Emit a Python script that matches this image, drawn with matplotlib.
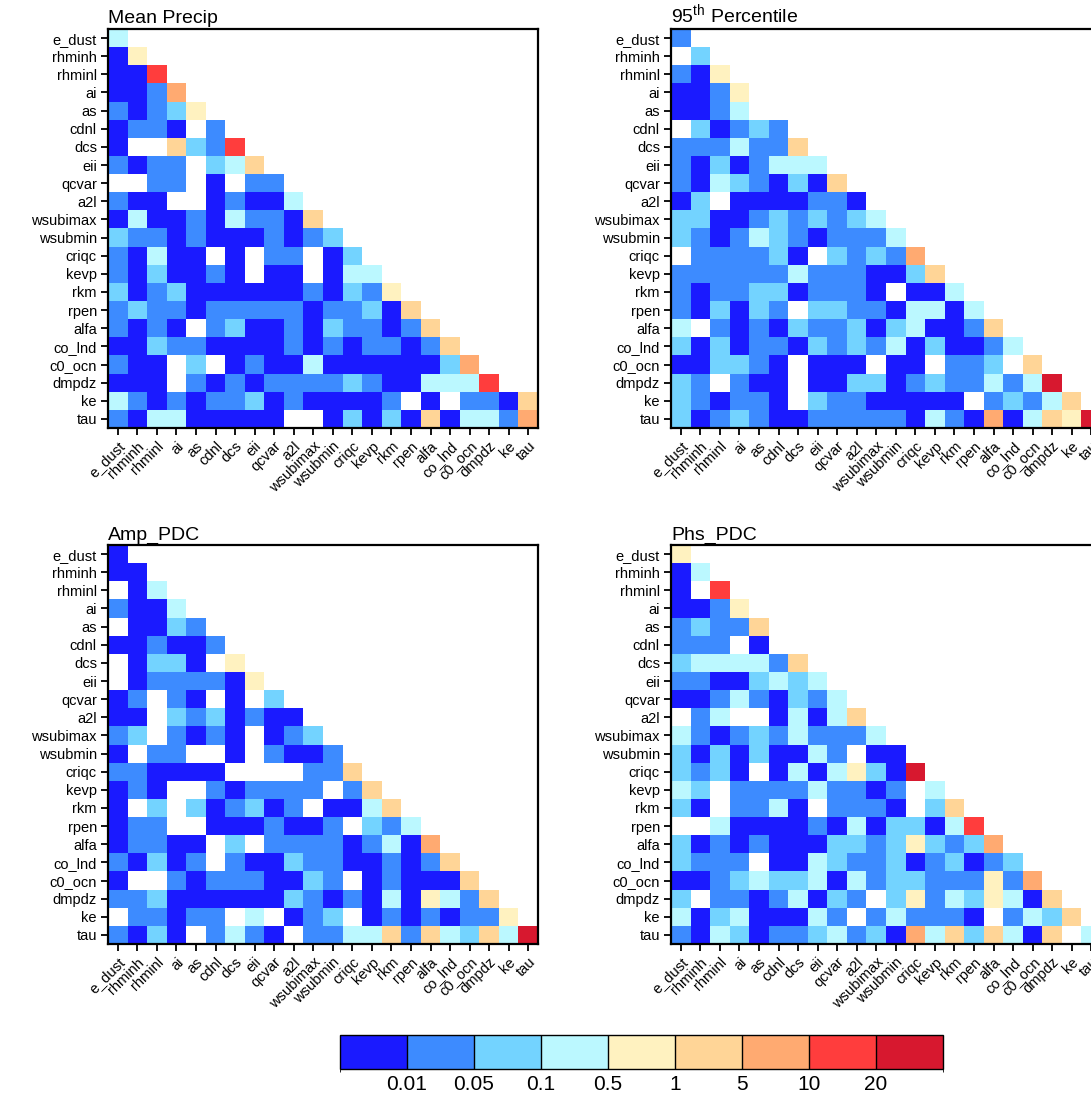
import numpy as np
import matplotlib
matplotlib.use("Agg")
import matplotlib.pyplot as plt
from matplotlib.colors import ListedColormap, BoundaryNorm
import matplotlib.colorbar as mcolorbar

plt.rcParams['font.family'] = ['Liberation Sans', 'DejaVu Sans']
plt.rcParams['mathtext.fontset'] = 'custom'
plt.rcParams['mathtext.rm'] = 'Liberation Sans'

variables = ["e_dust", "rhminh", "rhminl", "ai", "as", "cdnl", "dcs", "eii", "qcvar",
             "a2l", "wsubimax", "wsubmin", "criqc", "kevp", "rkm", "rpen", "alfa",
             "co_lnd", "c0_ocn", "dmpdz", "ke", "tau"]

# class of each lower-triangle cell (0..8 = colour bin, '.' = no value)
mean_precip = ["3", "04", "007", "0016", "10124", "0110.1", "0..5217", "1011.235",
               "..11.0.11", "100..01003", "03001031105", "211010001012",
               "10300.0.11.02", "1020010.00.033", "201200000010214",
               "1211011111011205", "1010.120010211015", "002110000101011015",
               "100.2.0100300000026", "000.1010111121003337",
               "310101120100001.0.1105", "103300000..02020503316"]
pct95 = ["1", ".2", "104", "0014", "0013.", ".20121", "1113115", "10201333",
         "103210205", "02.0000110", "22001212123", "210132101113",
         ".111120.21216", "11111131110025", "10112201110.003",
         "102021.221103303", "3.101021120230015", "202011021213020013",
         "002210.000.00.112.5", "21.100.0022012113138",
         "210110.21100000.12135", "2012100111110310603548"]
amp_pdc = ["0", "00", ".03", "1003", ".0021", "001001", ".0220.4", ".0111104",
           "01.10.0.2", "00.2120100", "12.1010.012", "0.11..0.1001",
           "110000....115", "010..101111.15", "0.2.201201.0035",
           "011..0001001.213", "01100.2.111101306", "10201.100211001015",
           "0..101110021.010005", "11200000021010304315",
           ".11011.3.012.01010114", "1020.1310.113351532538"]
phs_pdc = ["4", "03", "0.7", "0014", "12115", "111.0.", "2333315", "11002323",
           "001310213", ".13..03035", "31012131113", "202020031.00",
           "2120.03034208", "32.111131101.3", "20.1130.1110.25",
           "..30000103022037", "20101000221242126", "2111.0032112012012",
           "0012322303122111416", "2.11013021.241324305",
           "302300031.131110.1325", "10320112312063525305.3"]

# representative value of each class and the class bounds
class_values = [0.005, 0.03, 0.07, 0.3, 0.7, 3, 7, 15, 30]
bounds = [0, 0.01, 0.05, 0.1, 0.5, 1, 5, 10, 20, 100]
bound_labels = ["0.01", "0.05", "0.1", "0.5", "1", "5", "10", "20"]
colors = ["#1a1aff", "#3d8bff", "#73d3ff", "#bbf8ff", "#fff2c0",
          "#ffd597", "#ffaa71", "#ff3d3d", "#d7182f"]

titles = ["Mean Precip", r"95$^{\rm th}$ Percentile", "Amp_PDC", "Phs_PDC"]
panels = [mean_precip, pct95, amp_pdc, phs_pdc]

cmap = ListedColormap(colors)
norm = BoundaryNorm(bounds, cmap.N)


def decode(rows):
    n = len(variables)
    m = np.full((n, n), np.nan)
    for i, r in enumerate(rows):
        for j, ch in enumerate(r):
            if ch != '.':
                m[i, j] = class_values[int(ch)]
    return np.ma.masked_invalid(m)


W, H = 1091, 1098
fig = plt.figure(figsize=(W / 100, H / 100), dpi=100)

pos = [(108, 29), (671, 29), (108, 545), (671, 545)]
aw, ah = 430, 399
n = len(variables)
edges = np.arange(n + 1) - 0.5
for (px, py), title, rows in zip(pos, titles, panels):
    ax = fig.add_axes([px / W, 1 - (py + ah) / H, aw / W, ah / H])
    ax.pcolormesh(edges, edges, decode(rows), cmap=cmap, norm=norm)
    ax.set_xlim(-0.5, n - 0.5)
    ax.set_ylim(n - 0.5, -0.5)
    ax.set_xticks(range(n))
    ax.set_yticks(range(n))
    ax.set_xticklabels(variables, rotation=45, ha='right', va='top',
                       rotation_mode='anchor', fontsize=10.5)
    ax.set_yticklabels(variables, fontsize=10.5)
    ax.tick_params(direction='out', length=5, width=1.3, pad=3)
    for s in ax.spines.values():
        s.set_linewidth(1.6)
    ax.set_title(title, loc='left', fontsize=14, pad=4)

cax = fig.add_axes([340 / W, 1 - 1069 / H, 603 / W, 34 / H])
cb = mcolorbar.ColorbarBase(cax, cmap=cmap, norm=norm, boundaries=bounds,
                            spacing='uniform', orientation='horizontal',
                            drawedges=True, ticks=bounds[1:-1])
cb.set_ticklabels(bound_labels)
cb.ax.tick_params(length=0, labelsize=15, pad=4)
cb.outline.set_linewidth(1.0)
cb.dividers.set_linewidth(1.0)

fig.savefig("out.png", dpi=100)
